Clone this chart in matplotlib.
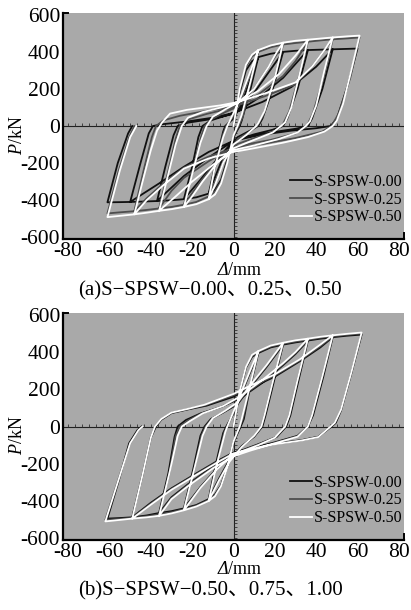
import numpy as np
import matplotlib.pyplot as plt

plt.rcParams['font.family'] = ['Liberation Serif', 'Noto Sans CJK SC']
plt.rcParams['mathtext.fontset'] = 'custom'
plt.rcParams['mathtext.rm'] = 'Liberation Serif'
plt.rcParams['mathtext.it'] = 'Liberation Serif:italic'
plt.rcParams['axes.unicode_minus'] = False

# hysteresis paths as (displacement mm, load kN) vertices,
# one list per half cycle, each half cycle starting where the previous one ended

# ---- (a) ----
a_000 = [
    [(0, 0), (3, 180), (6, 300), (9, 350), (12, 372)],
    [(12, 372), (8, 190), (4, 30), (3, 0), (0, -60), (-3, -180), (-6, -290), (-9, -345), (-12, -365)],
    [(-12, -365), (-8, -170), (-5, -30), (-4, 0), (0, 40), (4, 120), (8, 250), (12, 372), (18, 390), (24, 400)],
    [(24, 400), (19, 200), (14, 40), (12, 0), (8, -25), (2, -60), (-4, -140), (-8, -250), (-12, -365), (-18, -385), (-24, -395)],
    [(-24, -395), (-20, -220), (-17, -60), (-15, 0), (-11, 30), (-4, 55), (2, 80), (10, 180), (17, 290), (24, 400), (30, 406), (36, 410)],
    [(36, 410), (31, 200), (26, 40), (24, 0), (19, -20), (10, -45), (0, -80), (-8, -180), (-16, -290), (-24, -395), (-30, -401), (-37, -405)],
    [(-37, -405), (-33, -220), (-29, -50), (-27, 0), (-22, 18), (-12, 35), (0, 65), (12, 150), (24, 260), (36, 410), (42, 412), (48, 414)],
    [(48, 414), (43, 200), (38, 40), (36, 0), (30, -15), (18, -35), (6, -60), (0, -80), (-12, -170), (-24, -270), (-37, -405), (-44, -408), (-50, -410)],
    [(-50, -410), (-45, -200), (-41, -40), (-39, 0), (-34, 10), (-22, 25), (-10, 45), (0, 70), (14, 130), (28, 210), (40, 320), (48, 414), (54, 416), (60, 418)],
    [(60, 418), (55, 210), (50, 40), (47, 0), (40, -12), (28, -25), (12, -50), (0, -80), (-12, -140), (-24, -220), (-36, -310), (-50, -410), (-55, -411), (-61, -412)],
    [(-61, -412), (-56, -200), (-51, -40), (-49, 0)],
]

a_025 = [
    [(0, 0), (3, 190), (6, 320), (9, 375), (12, 400)],
    [(12, 400), (8, 220), (4.5, 50), (2.5, 0), (0, -55), (-3, -190), (-6, -300), (-9, -355), (-12, -380)],
    [(-12, -380), (-8.5, -200), (-5, -45), (-3.5, 0), (0, 55), (4, 150), (8, 280), (12, 400), (18, 425), (24, 440)],
    [(24, 440), (19.5, 240), (14.5, 60), (11.5, 0), (8, -30), (2, -70), (-4, -170), (-8, -280), (-12, -380), (-18, -410), (-24, -425)],
    [(-24, -425), (-19.5, -230), (-16, -70), (-14, 0), (-10, 40), (-4, 75), (2, 105), (10, 200), (17, 320), (24, 440), (30, 448), (36, 455)],
    [(36, 455), (31.5, 260), (27, 80), (23.5, 0), (19, -35), (10, -65), (0, -105), (-8, -190), (-16, -300), (-24, -425), (-30, -437), (-36, -445)],
    [(-36, -445), (-31.5, -240), (-28, -70), (-26, 0), (-22, 35), (-13, 65), (0, 100), (12, 170), (24, 270), (30, 350), (36, 455), (42, 462), (48, 468)],
    [(48, 468), (43.5, 260), (38.5, 70), (35.5, 0), (30, -40), (18, -75), (6, -100), (0, -115), (-12, -190), (-24, -280), (-30, -350), (-36, -445), (-42, -453), (-48, -460)],
    [(-48, -460), (-43.5, -240), (-39.5, -60), (-37.5, 0), (-34, 30), (-26, 55), (-14, 80), (0, 105), (15, 160), (30, 225), (38, 320), (44, 410), (48, 468), (55, 473), (61, 478)],
    [(61, 478), (56.5, 260), (51, 70), (47.5, 0), (43, -30), (30, -65), (15, -95), (0, -120), (-12, -165), (-24, -225), (-34, -310), (-42, -390), (-48, -460), (-55, -466), (-61, -472)],
    [(-61, -472), (-55.5, -240), (-50.5, -60), (-48, 0)],
]

a_050 = [
    [(0, 0), (3, 200), (6, 330), (9, 385), (12, 410)],
    [(12, 410), (8, 230), (4, 60), (2, 0), (0, -50), (-3, -200), (-6, -310), (-9, -370), (-12, -395)],
    [(-12, -395), (-9, -220), (-5, -60), (-3, 0), (0, 70), (4, 170), (8, 290), (12, 410), (18, 435), (24, 450)],
    [(24, 450), (20, 260), (15, 80), (12, 15), (11, 0), (6, -50), (0, -100), (-5, -200), (-9, -320), (-12, -395), (-18, -422), (-24, -437)],
    [(-24, -437), (-20, -260), (-16, -90), (-13, 0), (-10, 50), (-4, 90), (2, 125), (10, 200), (17, 320), (21, 400), (24, 450), (30, 460), (36, 466)],
    [(36, 466), (32, 280), (28, 100), (25, 20), (23, 0), (19, -35), (10, -75), (0, -120), (-8, -200), (-15, -300), (-20, -380), (-24, -437), (-30, -449), (-36, -458)],
    [(-36, -458), (-32, -280), (-28, -100), (-25, 0), (-22, 45), (-15, 75), (-6, 100), (2, 125), (12, 190), (22, 280), (30, 380), (36, 466), (42, 472), (48, 478)],
    [(48, 478), (44, 300), (40, 110), (37, 25), (35, 0), (31, -35), (22, -70), (10, -105), (0, -130), (-10, -210), (-20, -300), (-29, -390), (-36, -458), (-42, -468), (-48, -477)],
    [(-48, -477), (-44, -300), (-40, -130), (-37, -25), (-34.5, 20), (-30.7, 67), (-22.6, 87), (-6.5, 111), (1.5, 128), (15, 175), (30, 235), (38, 320), (44, 410), (48, 478), (55, 484), (61, 488)],
    [(61, 488), (57, 300), (53, 120), (50, 30), (48, 0), (44, -30), (36, -60), (24, -90), (10, -120), (0, -140), (-12, -175), (-24, -230), (-34, -320), (-42, -400), (-48, -477), (-55, -485), (-61, -492)],
    [(-61, -492), (-55, -240), (-50, -60), (-47, 0)],
]

# ---- (b) ----
b_000 = [
    [(0, 0), (3, 185), (6, 315), (9, 375), (12, 395)],
    [(12, 395), (8, 210), (5, 40), (3.5, 0), (0, -85), (-3, -215), (-6, -315), (-9, -365), (-12, -390)],
    [(-12, -390), (-8.5, -200), (-5, -35), (-3.5, 0), (0, 70), (4, 180), (8, 290), (12, 395), (18, 425), (24, 440)],
    [(24, 440), (19.5, 240), (15.5, 60), (14, 0), (10, -55), (4, -105), (-2, -180), (-7, -280), (-12, -390), (-18, -422), (-24, -440)],
    [(-24, -440), (-19.5, -230), (-16, -50), (-14, 0), (-11, 40), (-5, 75), (2, 120), (8, 210), (16, 320), (24, 440), (30, 452), (36, 462)],
    [(36, 462), (31.5, 250), (27.5, 60), (25.5, 0), (21, -55), (12, -95), (0, -145), (-8, -225), (-16, -325), (-24, -440), (-30, -455), (-36, -465)],
    [(-36, -465), (-31.5, -250), (-28.5, -55), (-27, 0), (-23, 35), (-16, 70), (-6, 105), (3, 150), (14, 235), (24, 330), (30, 390), (36, 462), (42, 472), (48, 480)],
    [(48, 480), (43.5, 270), (38.5, 60), (36, 0), (31, -50), (20, -85), (8, -120), (0, -150), (-10, -215), (-22, -310), (-30, -380), (-36, -465), (-42, -478), (-49, -488)],
    [(-49, -488), (-44, -260), (-40, -60), (-37.5, 0), (-35, 36), (-30, 72), (-22, 92), (-13, 112), (0, 160), (9, 210), (20, 268), (32, 350), (42, 425), (48, 480), (55, 488), (62, 494)],
    [(62, 494), (57, 285), (52, 85), (49.5, 20), (47.5, 0), (41, -55), (33, -73), (17, -97), (0, -140), (-7, -180), (-18, -252), (-30, -332), (-40, -410), (-49, -488), (-55, -492), (-61, -495)],
    [(-61, -495), (-55.5, -290), (-50.5, -90), (-46.5, -20), (-44.5, 0)],
]

b_025 = [
    [(0, 0), (3, 188), (6, 318), (9, 380), (12, 400)],
    [(12, 400), (8, 215), (4.5, 40), (3, 0), (0, -82), (-3, -218), (-6, -318), (-9, -370), (-12, -395)],
    [(-12, -395), (-8, -200), (-4.5, -32), (-3, 0), (0, 75), (4, 185), (8, 295), (12, 400), (18, 430), (24, 445)],
    [(24, 445), (19, 240), (15, 60), (13.5, 0), (10, -52), (4, -108), (-2, -185), (-7, -285), (-12, -395), (-18, -426), (-24, -445)],
    [(-24, -445), (-19, -230), (-15.5, -50), (-13.5, 0), (-10.5, 42), (-4.5, 80), (2, 125), (8, 215), (16, 325), (24, 445), (30, 457), (36, 467)],
    [(36, 467), (31, 250), (27, 60), (25, 0), (20.5, -58), (12, -97), (0, -148), (-8, -228), (-16, -328), (-24, -445), (-30, -461), (-36, -472)],
    [(-36, -472), (-31, -250), (-28, -52), (-26, 0), (-22, 32), (-15.5, 70), (-5.5, 108), (3, 155), (14, 242), (24, 335), (30, 395), (36, 467), (42, 477), (48, 485)],
    [(48, 485), (43, 270), (38, 60), (36, 0), (31, -52), (20, -88), (8, -125), (0, -155), (-10, -220), (-22, -315), (-30, -385), (-36, -472), (-42, -483), (-49, -491)],
    [(-49, -491), (-44, -260), (-40, -60), (-38, 0), (-35, 38), (-30, 74), (-22, 94), (-13.5, 115), (0, 168), (9, 217), (20, 274), (32, 355), (42, 432), (48, 485), (55, 493), (62, 500)],
    [(62, 500), (57, 288), (52, 88), (49, 20), (47, 0), (41, -56), (33, -74), (17, -99), (0, -143), (-7, -184), (-18, -256), (-30, -336), (-40, -415), (-49, -491), (-55, -497), (-62, -502)],
    [(-62, -502), (-56, -295), (-50, -90), (-46, -20), (-44, 0)],
]

b_050 = [
    [(0, 0), (3, 190), (6, 320), (9, 385), (12, 405)],
    [(12, 405), (8, 220), (4, 40), (3, 0), (0, -80), (-3, -220), (-6, -320), (-9, -375), (-12, -400)],
    [(-12, -400), (-8, -200), (-4, -30), (-3, 0), (0, 80), (4, 190), (8, 300), (12, 405), (18, 435), (24, 450)],
    [(24, 450), (19, 240), (15, 60), (13.5, 0), (10, -50), (4, -110), (-2, -190), (-7, -290), (-12, -400), (-18, -430), (-24, -450)],
    [(-24, -450), (-19, -230), (-15, -50), (-13, 0), (-10, 45), (-4, 85), (2, 130), (8, 220), (16, 330), (24, 450), (30, 463), (36, 472)],
    [(36, 472), (31, 250), (27, 60), (25, 0), (20, -60), (12, -100), (0, -150), (-8, -230), (-16, -330), (-24, -450), (-30, -467), (-36, -480)],
    [(-36, -480), (-31, -250), (-27, -50), (-25, 0), (-21, 30), (-15, 70), (-5, 110), (3, 160), (14, 250), (24, 340), (30, 400), (36, 472), (42, 482), (48, 490)],
    [(48, 490), (43, 270), (38, 60), (36, 0), (31, -55), (20, -90), (8, -130), (0, -160), (-10, -225), (-22, -320), (-30, -390), (-36, -480), (-42, -488), (-49, -495)],
    [(-49, -495), (-44, -260), (-40, -60), (-38, 0), (-35, 40), (-30, 75), (-22, 95), (-14, 117), (0, 175), (9, 224), (20, 280), (32, 360), (42, 440), (48, 490), (55, 498), (62, 505)],
    [(62, 505), (57, 290), (52, 90), (49, 20), (47, 0), (41, -57), (33, -75), (17, -100), (0, -145), (-7, -188), (-18, -260), (-30, -340), (-40, -420), (-49, -495), (-55, -502), (-62, -510)],
    [(-62, -510), (-56, -300), (-50, -90), (-46, -20), (-44, 0)],
]

names = ['S-SPSW-0.00', 'S-SPSW-0.25', 'S-SPSW-0.50']
x_ticks = [-80, -60, -40, -20, 0, 20, 40, 60, 80]
y_ticks = [-600, -400, -200, 0, 200, 400, 600]
captions = ['(a)S\u2212SPSW\u22120.00\u30010.25\u30010.50',
            '(b)S\u2212SPSW\u22120.50\u30010.75\u30011.00']

line_colors = ['#101010', '#4e4e4e', '#ffffff']
bg = '#a9a9a9'
W, H = 411, 610


def join(branches):
    pts = [branches[0][0]]
    for br in branches:
        pts.extend(br[1:])
    return np.array(pts, dtype=float)


fig = plt.figure(figsize=(W / 100, H / 100), dpi=100)

# axes box in pixels: left, right, top, bottom
boxes = [(63, 404, 13, 239), (63, 404, 313, 540)]
data = [[a_000, a_025, a_050], [b_000, b_025, b_050]]

for k, (l, r, t, b) in enumerate(boxes):
    ax = fig.add_axes([l / W, 1 - b / H, (r - l) / W, (b - t) / H])
    ax.set_facecolor(bg)
    ax.set_xlim(-82.5, 82.5)
    ax.set_ylim(-610, 610)
    for s in ['top', 'right']:
        ax.spines[s].set_visible(False)
    for s in ['left', 'bottom']:
        ax.spines[s].set_linewidth(1.6)
    ax.set_xticks(x_ticks)
    ax.set_yticks(y_ticks)
    ax.tick_params(length=0, labelsize=15.5, pad=2)
    ax.tick_params(axis='x', pad=2.5)

    # zero axes with small ticks
    ax.axhline(0, color='#202020', lw=0.8, zorder=1)
    ax.axvline(0, color='#202020', lw=0.8, zorder=1)
    ax.vlines(np.arange(-80, 80.1, 20 / 6), 0, 16, color='#303030', lw=0.6, zorder=1)
    ax.hlines(np.arange(-600, 601, 20), 0, 1.5, color='#303030', lw=0.6, zorder=1)

    # corner marks
    ax.plot([0, 0.015], [1, 1], transform=ax.transAxes, color='k', lw=1.4, clip_on=False)
    ax.plot([1, 1], [0, 0.025], transform=ax.transAxes, color='k', lw=1.4, clip_on=False)

    for i, spec in enumerate(data[k]):
        p = join(spec)
        ax.plot(p[:, 0], p[:, 1], color=line_colors[i], lw=1.3, label=names[i], zorder=2 + i,
                solid_joinstyle='round')

    ax.legend(loc='lower right', bbox_to_anchor=(0.995, 0.06), frameon=False, fontsize=11.5,
              handlelength=1.4, handletextpad=0.1, labelspacing=0.12, borderpad=0, borderaxespad=0)

    fig.text(18 / W, 1 - (t + 122) / H, r'$P$/kN', rotation=90, ha='center', va='center', fontsize=13)
    # italic delta followed by upright unit
    fig.text(228 / W, 1 - (t + 257) / H, 'Δ', style='italic', ha='right', va='center', fontsize=13)
    fig.text(228 / W, 1 - (t + 257) / H, '/mm', ha='left', va='center', fontsize=13)
    fig.text(210 / W, 1 - (t + 278) / H, captions[k], ha='center', va='center', fontsize=15)

fig.savefig('out.png', dpi=100)
